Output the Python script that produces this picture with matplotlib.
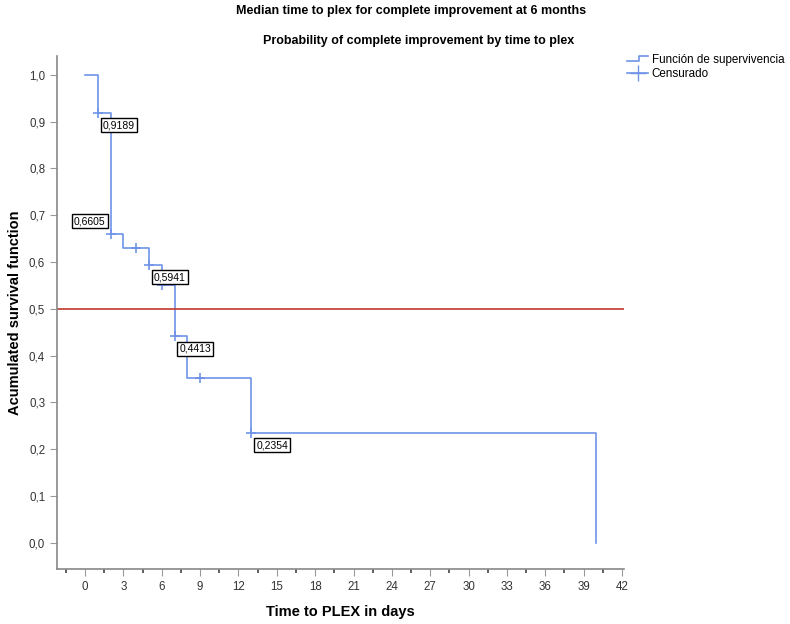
import numpy as np
import matplotlib.pyplot as plt
from matplotlib.lines import Line2D
from matplotlib.legend_handler import HandlerBase
from matplotlib.ticker import MultipleLocator, FuncFormatter

plt.rcParams['font.family'] = ['Liberation Sans', 'DejaVu Sans']

# Kaplan-Meier steps (time in days, survival)
step_t = [0, 1, 2, 3, 5, 6, 7, 8, 13, 40]
step_s = [1.0, 0.9189, 0.6605, 0.6300, 0.5941, 0.5507, 0.4413, 0.3530, 0.2354, 0.0]

# censored observations
cens_t = [1, 2, 4, 5, 6, 7, 9, 13]
cens_s = [0.9189, 0.6605, 0.6300, 0.5941, 0.5507, 0.4413, 0.3530, 0.2354]

# boxed value labels
lab_t = [1, 2, 5, 7, 13]
lab_s = [0.9189, 0.6605, 0.5941, 0.4413, 0.2354]
lab_txt = ['0,9189', '0,6605', '0,5941', '0,4413', '0,2354']

median_line = 0.5

blue = '#6f93e8'


class StepHandler(HandlerBase):
    # little step icon like SPSS legend
    def create_artists(self, legend, orig, xd, yd, w, h, fs, trans):
        x = [xd, xd + w * 0.55, xd + w * 0.55, xd + w]
        y = [yd + h * 0.2, yd + h * 0.2, yd + h * 0.8, yd + h * 0.8]
        ln = Line2D(x, y, color=orig.get_color(), lw=orig.get_linewidth(), transform=trans)
        return [ln]


fig = plt.figure(figsize=(7.9, 6.24), dpi=100)
ax = fig.add_axes([0.0722, 0.0881, 0.7177, 0.822])

ax.plot(step_t, step_s, drawstyle='steps-post', color=blue, lw=1.2)
ax.plot(cens_t, cens_s, ls='none', marker='+', ms=7, mew=1.2, color=blue)
ax.axhline(median_line, color='#c0392b', lw=1.2)

for t, s, txt in zip(lab_t, lab_s, lab_txt):
    off = (-15, 9) if txt == '0,6605' else (15, -9)
    ax.annotate(txt, (t, s), xytext=off, textcoords='offset points',
                ha='center', va='center', fontsize=7.5,
                bbox=dict(boxstyle='square,pad=0.2', fc='white', ec='black', lw=1))

ax.set_xlim(-2.19, 42.16)
ax.set_ylim(-0.056, 1.04)
ax.xaxis.set_major_locator(MultipleLocator(3))
ax.xaxis.set_minor_locator(MultipleLocator(1.5))
ax.yaxis.set_major_locator(MultipleLocator(0.1))
ax.yaxis.set_major_formatter(FuncFormatter(lambda v, p: f'{v:.1f}'.replace('.', ',')))

for sp in ['top', 'right']:
    ax.spines[sp].set_visible(False)
for sp in ['left', 'bottom']:
    ax.spines[sp].set_color('#888888')
    ax.spines[sp].set_linewidth(1.2)
ax.tick_params(which='major', length=5, color='#999999', labelsize=8.3, labelcolor='#333333')
ax.tick_params(which='minor', length=3, width=1.2, color='#444444')

ax.set_xlabel('Time to PLEX in days', fontsize=10.5, fontweight='bold', labelpad=9)
ax.set_ylabel('Acumulated survival function', fontsize=10.5, fontweight='bold', labelpad=5)

fig.text(0.52, 0.983, 'Median time to plex for complete improvement at 6 months',
         ha='center', va='center', fontsize=9, fontweight='bold')
fig.text(0.53, 0.935, 'Probability of complete improvement by time to plex',
         ha='center', va='center', fontsize=9, fontweight='bold')

surv_h = Line2D([], [], color=blue, lw=1.2)
cens_h = Line2D([], [], color=blue, lw=1.2, marker='+', ms=11)
fig.legend([surv_h, cens_h], ['Función de supervivencia', 'Censurado'],
           handler_map={surv_h: StepHandler()},
           loc='upper left', bbox_to_anchor=(0.788, 0.921), frameon=False,
           fontsize=8.4, handlelength=1.8, handletextpad=0.3, labelspacing=0.15,
           borderaxespad=0)

fig.savefig('out.png', dpi=100)
